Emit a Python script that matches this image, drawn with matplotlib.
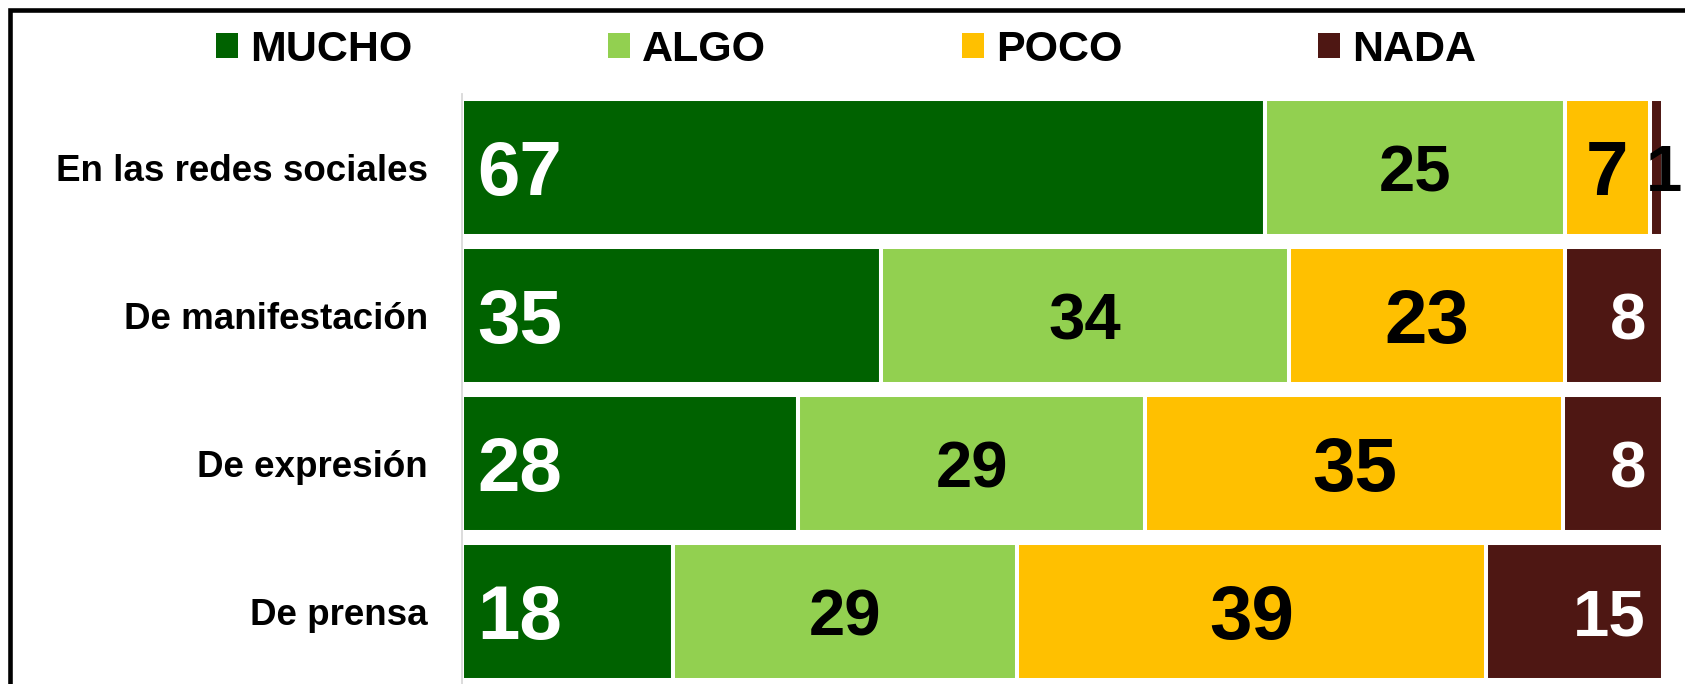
import matplotlib
matplotlib.use("Agg")
import matplotlib.pyplot as plt
from matplotlib.patches import Patch, Rectangle
import numpy as np

plt.rcParams['font.family'] = ['Liberation Sans', 'DejaVu Sans']
plt.rcParams['font.weight'] = 'bold'

categories = ["En las redes sociales", "De manifestación", "De expresión", "De prensa"]
series_names = ["MUCHO", "ALGO", "POCO", "NADA"]
mucho = [66.9, 34.9, 28.0, 17.6]
algo = [24.9, 34.0, 28.9, 28.6]
poco = [7.1, 22.9, 34.8, 39.1]
nada = [1.1, 8.2, 8.3, 14.7]

colors = ["#006200", "#92D050", "#FFC000", "#4E1713"]
label_colors = ["white", "black", "black", "white"]
label_sizes = [55, 47, 55, 47]

W, H = 1685, 684
fig = plt.figure(figsize=(W / 100, H / 100), dpi=100)
ax = fig.add_axes([462 / W, -2 / H, (1663 - 462) / W, (686 - 93.5) / H])

y = np.arange(len(categories))
series = [mucho, algo, poco, nada]
left = np.zeros(len(categories))
for si, vals in enumerate(series):
    vals = np.array(vals, dtype=float)
    ax.barh(y, vals, left=left, height=0.925, color=colors[si],
            edgecolor="white", linewidth=2.9)
    fs = label_sizes[si]
    for yi, (l, v) in enumerate(zip(left, vals)):
        dy = -0.36 * fs
        txt = f"{int(round(v))}"
        if si == 0:
            ax.annotate(txt, (l, yi), xytext=(10.8, dy), textcoords="offset points",
                        ha="left", va="baseline", fontsize=fs, color=label_colors[si],
                        fontweight="bold")
        elif si == 3:
            small = v < 3
            ax.annotate(txt, (l + v, yi), xytext=(-12.2, dy), textcoords="offset points",
                        ha="left" if small else "right", va="baseline", fontsize=fs,
                        color="black" if small else label_colors[si], fontweight="bold",
                        annotation_clip=False)
        else:
            ax.annotate(txt, (l + v / 2, yi), xytext=(0, dy), textcoords="offset points",
                        ha="center", va="baseline", fontsize=fs, color=label_colors[si],
                        fontweight="bold")
    left = left + vals

ax.set_xlim(0, 100)
ax.set_ylim(len(categories) - 0.5, -0.5)
ax.set_yticks(y)
ax.set_yticklabels(categories, fontsize=26.5, fontweight="bold")
ax.set_xticks([])
ax.tick_params(axis="y", length=0, pad=24.5)
for s in ["top", "right", "bottom"]:
    ax.spines[s].set_visible(False)
ax.spines["left"].set_color("#d9d9d9")
ax.spines["left"].set_linewidth(1.3)

handles = [Patch(facecolor=c, edgecolor="none") for c in colors]
fig.legend(handles, series_names, loc="center left",
           bbox_to_anchor=(216 / W, 1 - 50 / H), ncol=4, frameon=False,
           prop={"size": 31, "weight": "bold"}, handlelength=0.51, handleheight=0.51,
           handletextpad=0.28, columnspacing=4.55, borderpad=0, borderaxespad=0)

fig.add_artist(Rectangle((10 / W, -0.2), 2, 1 - 10 / H + 0.2, transform=fig.transFigure,
                         fill=False, edgecolor="black", linewidth=3.3, clip_on=False))

fig.savefig("out.png", dpi=100)
